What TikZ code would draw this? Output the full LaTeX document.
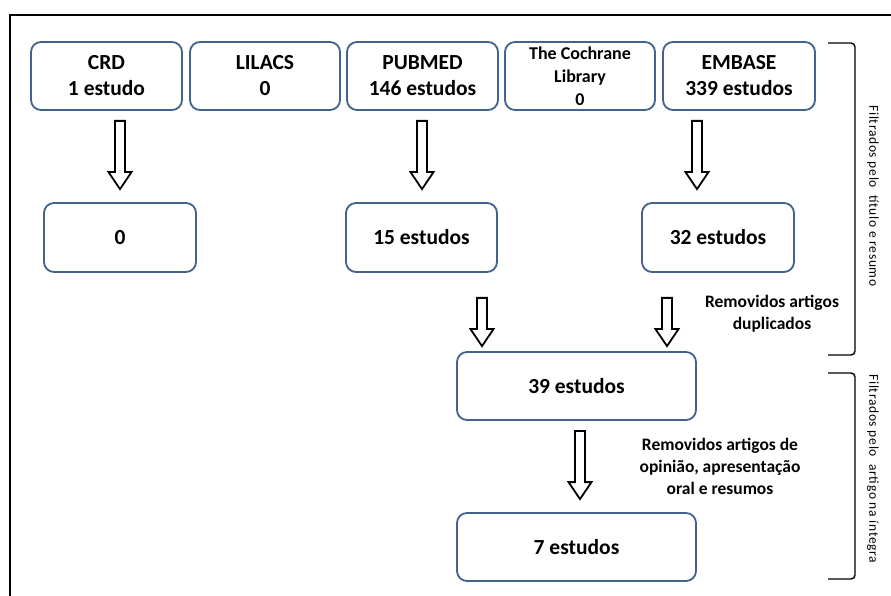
\documentclass[tikz,border=0pt]{standalone}
\usepackage{fontspec}
\setmainfont{Carlito}
\usetikzlibrary{calc}
\definecolor{boxblue}{RGB}{66,98,140}
\begin{document}
\begin{tikzpicture}[x=1pt,y=1pt,
  box/.style={draw=boxblue, line width=1.8pt, rounded corners=10pt, fill=white, align=center, inner sep=0pt, minimum height=68pt, font=\fontsize{21.5}{26}\selectfont\bfseries},
  lab/.style={align=center, font=\fontsize{17.5}{22}\selectfont\bfseries},
  side/.style={rotate=-90, inner sep=0pt, font=\fontsize{13.5}{15}\selectfont\addfontfeature{LetterSpace=5}},
  brk/.style={draw=black, line width=1.4pt, rounded corners=4pt},
  frame/.style={draw=black, line width=1.6pt},
  harrow/.style={draw=black, line width=1.8pt, fill=white, line join=miter,
    to path={let \p1=(\tikztostart), \p2=(\tikztotarget) in
      (\x1-5pt,\y1) -- (\x1+5pt,\y1) -- (\x1+5pt,\y2+17pt) -- (\x1+11.5pt,\y2+17pt) -- (\x1,\y2) -- (\x1-11.5pt,\y2+17pt) -- (\x1-5pt,\y2+17pt) -- cycle}}
]
\useasboundingbox (0,0) rectangle (891,595);
\fill[white] (0,0) rectangle (891,595);
\draw[frame] (10,-5) -- (10,580) -- (896,580);

% top row
\node[box, minimum width=151pt] (crd) at (106.5,519) {CRD\\1 estudo};
\node[box, minimum width=150pt] (lilacs) at (265,519) {LILACS\\0};
\node[box, minimum width=151pt] (pubmed) at (422.5,519) {PUBMED\\146 estudos};
\node[box, minimum width=150pt, font=\fontsize{18}{23}\selectfont\bfseries] (cochrane) at (580,519) {The Cochrane\\Library\\0};
\node[box, minimum width=152pt] (embase) at (739,519) {EMBASE\\339 estudos};

% second row
\node[box, minimum width=152pt, minimum height=69pt] (zero) at (120,357.5) {0};
\node[box, minimum width=151pt, minimum height=69pt] (s15) at (421.5,357.5) {15 estudos};
\node[box, minimum width=152pt, minimum height=69pt] (s32) at (718,357.5) {32 estudos};

% lower boxes
\node[box, minimum width=239pt] (s39) at (576.5,209) {39 estudos};
\node[box, minimum width=239pt] (s7) at (576.5,48) {7 estudos};

% arrows
\draw[harrow] ([shift={(13.5,-10)}]crd.south) to ([yshift=13]zero.north);
\draw[harrow] ([shift={(-0.5,-10)}]pubmed.south) to ([yshift=13]s15.north);
\draw[harrow] ([shift={(-42,-10)}]embase.south) to ([shift={(-21,13)}]s32.north);
\draw[harrow] ([shift={(60.5,-25)}]s15.south) to ([shift={(-94.5,5)}]s39.north);
\draw[harrow] ([shift={(-51,-25)}]s32.south) to ([shift={(90.5,5)}]s39.north);
\draw[harrow] ([shift={(3.5,-10)}]s39.south) to ([shift={(3.5,13)}]s7.north);

% labels
\node[lab] (dup) at (772,281) {Removidos artigos\\duplicados};
\node[lab] (opin) at (720,129) {Removidos artigos de\\opinião,\ apresentação\\oral e resumos};

% brackets
\draw[brk] (828,552) -- (855,552) -- (855,240) -- (828,240);
\draw[brk] (828,222) -- (855,222) -- (855,16) -- (828,16);
\node[side] (t1) at (873,399) {Filtrados pelo\ \ título e resumo};
\node[side] (t2) at (873,126) {Filtrados pelo\ \ artigo na íntegra};
\end{tikzpicture}
\end{document}
